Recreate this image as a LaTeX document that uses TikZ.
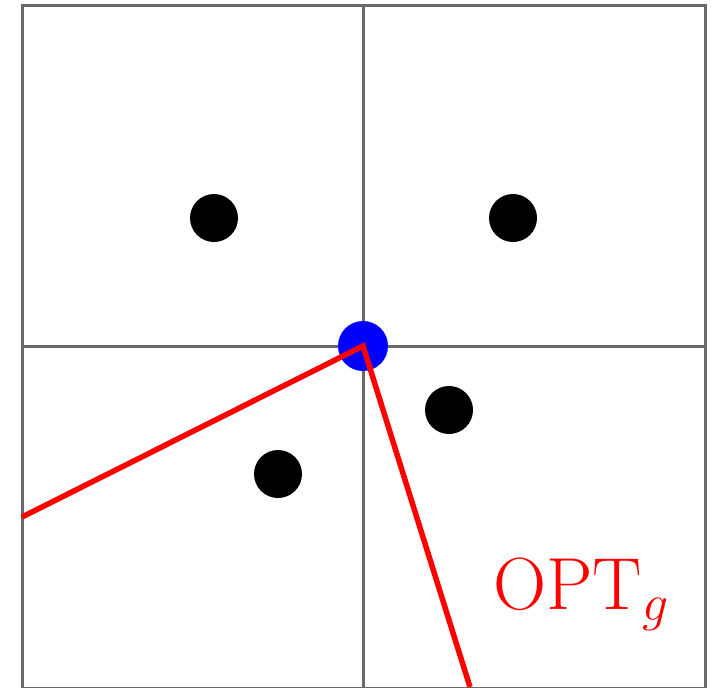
\RequirePackage{fix-cm}
\documentclass[tikz,border=0pt]{standalone}
\begin{document}
\begin{tikzpicture}[x=0.02cm,y=-0.02cm,
  gridline/.style={draw={rgb,255:red,105;green,105;blue,105},line width=3*0.02cm},
  dot/.style={circle,fill=black,inner sep=0pt,minimum size=48*0.02cm},
  bluedot/.style={circle,fill=blue,inner sep=0pt,minimum size=50*0.02cm},
  optline/.style={draw=red,line width=5.5*0.02cm}]
\useasboundingbox (0,0) rectangle (712,687);
\begin{scope}
\clip (0,0) rectangle (712,687);
\draw[gridline] (22,5) rectangle (705,688);
\draw[gridline] (363,5) -- (363,688);
\draw[gridline] (22,346) -- (705,346);
\node[dot] (d1) at (214,218) {};
\node[dot] (d2) at (513,218) {};
\node[dot] (d3) at (449,410) {};
\node[dot] (d4) at (278,474) {};
\node[bluedot] (c) at (363,346) {};
\coordinate (l) at (22,517);
\coordinate (b) at (470,687);
\draw[optline,line join=miter] (l) -- (c.center) -- (b);
\end{scope}
\node[anchor=base west,text=red,inner sep=0pt,font=\fontsize{42}{45}\selectfont] (opt) at (493,609) {$\mathrm{OPT}_g$};
\end{tikzpicture}
\end{document}
